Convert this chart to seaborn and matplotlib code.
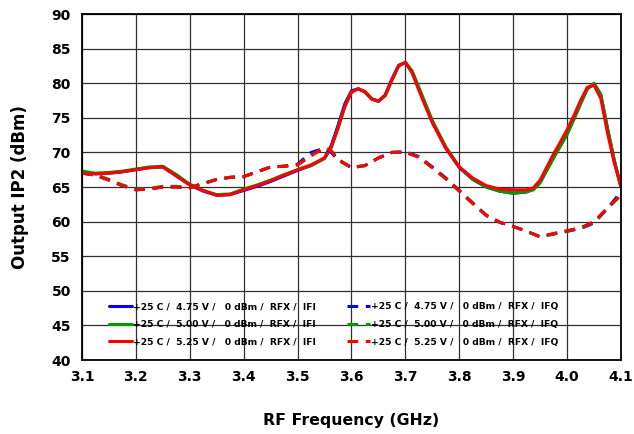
import matplotlib
matplotlib.use("Agg")
import matplotlib.pyplot as plt
import matplotlib.ticker as mticker
import seaborn as sns

# RF frequency (GHz) sample points
FREQ_IFI = [3.100, 3.125, 3.150, 3.175, 3.200, 3.225, 3.250, 3.275, 3.300, 3.325,
            3.350, 3.375, 3.400, 3.425, 3.450, 3.475, 3.500, 3.525, 3.550, 3.5625,
            3.575, 3.5875, 3.600, 3.6125, 3.625, 3.6375, 3.650, 3.6625, 3.675, 3.6875,
            3.700, 3.7125, 3.725, 3.7375, 3.750, 3.775, 3.800, 3.825, 3.850, 3.875,
            3.900, 3.925, 3.9375, 3.950, 3.9625, 3.975, 3.9875, 4.000, 4.0125, 4.025,
            4.0375, 4.050, 4.0625, 4.075, 4.0875, 4.100]

IFI_475 = [67.1, 66.9, 67.0, 67.2, 67.5, 67.8, 67.9, 66.6, 65.3, 64.4,
           63.8, 63.9, 64.5, 65.1, 65.8, 66.6, 67.4, 68.1, 69.2, 71.0,
           73.9, 77.0, 78.9, 79.2, 78.7, 77.7, 77.4, 78.3, 80.6, 82.6,
           83.0, 81.6, 79.2, 76.8, 74.4, 70.6, 67.8, 66.1, 65.0, 64.4,
           64.1, 64.3, 64.7, 65.7, 67.5, 69.3, 71.0, 72.7, 74.8, 77.1,
           79.2, 79.9, 78.3, 73.4, 68.8, 65.0]

IFI_500 = [67.3, 67.0, 67.1, 67.3, 67.6, 67.9, 68.0, 66.8, 65.4, 64.5,
           63.9, 64.0, 64.7, 65.3, 66.0, 66.8, 67.5, 68.1, 69.1, 70.7,
           73.5, 76.6, 78.7, 79.2, 78.8, 77.8, 77.4, 78.2, 80.4, 82.5,
           83.0, 81.8, 79.4, 77.0, 74.6, 70.8, 67.9, 66.1, 65.0, 64.4,
           64.1, 64.3, 64.6, 65.6, 67.4, 69.2, 70.9, 72.6, 74.8, 77.0,
           79.2, 80.0, 78.4, 73.5, 68.9, 65.0]

IFI_525 = [67.0, 66.9, 67.0, 67.2, 67.5, 67.8, 67.9, 66.6, 65.3, 64.5,
           63.8, 63.9, 64.6, 65.2, 65.9, 66.7, 67.5, 68.2, 69.2, 70.8,
           73.5, 76.6, 78.7, 79.2, 78.8, 77.7, 77.4, 78.2, 80.5, 82.5,
           83.0, 81.5, 79.0, 76.6, 74.3, 70.6, 67.9, 66.3, 65.2, 64.7,
           64.6, 64.6, 64.9, 66.0, 67.9, 69.8, 71.5, 73.3, 75.3, 77.5,
           79.4, 79.7, 77.8, 72.8, 68.5, 65.0]

FREQ_IFQ = [3.100, 3.125, 3.150, 3.175, 3.200, 3.225, 3.250, 3.275, 3.300, 3.325,
            3.350, 3.375, 3.400, 3.425, 3.450, 3.475, 3.500, 3.525, 3.550, 3.5625,
            3.575, 3.600, 3.625, 3.650, 3.675, 3.700, 3.725, 3.750, 3.775, 3.800,
            3.825, 3.850, 3.875, 3.900, 3.925, 3.950, 3.975, 4.000, 4.025, 4.050,
            4.075, 4.100]

IFQ_475 = [67.0, 66.7, 66.0, 65.2, 64.6, 64.7, 65.0, 65.0, 64.9, 65.5,
           66.1, 66.4, 66.5, 67.2, 67.9, 68.0, 68.3, 70.0, 70.6, 70.0,
           68.9, 67.8, 68.1, 69.2, 70.0, 70.1, 69.4, 67.9, 66.3, 64.5,
           62.7, 60.9, 59.9, 59.3, 58.6, 57.8, 58.2, 58.6, 59.0, 59.8,
           61.9, 64.3]

IFQ_500 = [67.1, 66.8, 66.1, 65.3, 64.7, 64.8, 65.1, 65.1, 64.9, 65.5,
           66.1, 66.4, 66.5, 67.2, 67.9, 68.0, 68.2, 69.6, 70.7, 70.2,
           69.0, 67.8, 68.1, 69.2, 70.0, 70.1, 69.3, 67.8, 66.2, 64.5,
           62.7, 60.9, 59.9, 59.3, 58.6, 57.8, 58.2, 58.6, 59.1, 59.9,
           61.9, 63.9]

IFQ_525 = [67.0, 66.7, 66.0, 65.2, 64.6, 64.7, 65.0, 65.0, 64.9, 65.5,
           66.1, 66.4, 66.5, 67.2, 67.9, 68.0, 68.2, 69.5, 70.7, 70.2,
           69.0, 67.8, 68.1, 69.2, 70.0, 70.0, 69.3, 67.8, 66.2, 64.4,
           62.6, 60.9, 59.9, 59.3, 58.6, 57.8, 58.3, 58.7, 59.1, 60.0,
           62.0, 63.8]

LABELS = ["+25 C /  4.75 V /   0 dBm /  RFX /  IFI",
          "+25 C /  5.00 V /   0 dBm /  RFX /  IFI",
          "+25 C /  5.25 V /   0 dBm /  RFX /  IFI",
          "+25 C /  4.75 V /   0 dBm /  RFX /  IFQ",
          "+25 C /  5.00 V /   0 dBm /  RFX /  IFQ",
          "+25 C /  5.25 V /   0 dBm /  RFX /  IFQ"]

COLORS = ["#0000ff", "#009900", "#ff0000"]

sns.set_style("white")
plt.rcParams["font.family"] = ["DejaVu Sans"]
plt.rcParams["font.weight"] = "bold"
plt.rcParams["text.color"] = "black"
plt.rcParams["axes.labelcolor"] = "black"
plt.rcParams["xtick.color"] = "black"
plt.rcParams["ytick.color"] = "black"

fig = plt.figure(figsize=(6.34, 4.34), dpi=100)
ax = fig.add_axes([0.1293, 0.1705, 0.8502, 0.7972])

ifi_series = [IFI_475, IFI_500, IFI_525]
ifq_series = [IFQ_475, IFQ_500, IFQ_525]

for vals, color, label in zip(ifi_series, COLORS, LABELS[:3]):
    sns.lineplot(x=FREQ_IFI, y=vals, color=color, linewidth=2.2, label=label, ax=ax)
for vals, color, label in zip(ifq_series, COLORS, LABELS[3:]):
    sns.lineplot(x=FREQ_IFQ, y=vals, color=color, linewidth=2.2, label=label,
                 dashes=False, ax=ax)
    ax.lines[-1].set_dashes([3.5, 2.5])

ax.set_xlim(3.1, 4.1)
ax.set_ylim(40, 90)
ax.xaxis.set_major_locator(mticker.MultipleLocator(0.1))
ax.xaxis.set_minor_locator(mticker.MultipleLocator(0.05))
ax.yaxis.set_major_locator(mticker.MultipleLocator(5))
ax.yaxis.set_minor_locator(mticker.MultipleLocator(1))
ax.xaxis.set_major_formatter(mticker.FormatStrFormatter("%.1f"))

ax.grid(True, which="major", color="#303030", linewidth=0.9)
ax.set_axisbelow(True)
for s in ax.spines.values():
    s.set_color("black")
    s.set_linewidth(1.3)

ax.tick_params(axis="both", which="major", labelsize=10, length=5, width=1,
               direction="out", color="black", labelcolor="black", pad=3)
ax.tick_params(axis="both", which="minor", length=3, width=0.8, direction="in",
               color="black")
ax.tick_params(axis="x", which="major", direction="inout", length=8)
for lbl in ax.get_xticklabels() + ax.get_yticklabels():
    lbl.set_fontweight("bold")

ax.set_xlabel("RF Frequency (GHz)", fontsize=11.3, fontweight="bold",
              color="black", labelpad=21)
ax.set_ylabel("Output IP2 (dBm)", fontsize=12, fontweight="bold",
              color="black", labelpad=16)

leg = ax.legend(loc="lower left", bbox_to_anchor=(0.035, 0.015), ncol=2,
                frameon=False, fontsize=6.6, handlelength=2.5, handletextpad=0.1,
                columnspacing=3.4, labelspacing=0.95)
for t in leg.get_texts():
    t.set_fontweight("bold")
    t.set_color("black")

fig.savefig("out.png", dpi=100)
